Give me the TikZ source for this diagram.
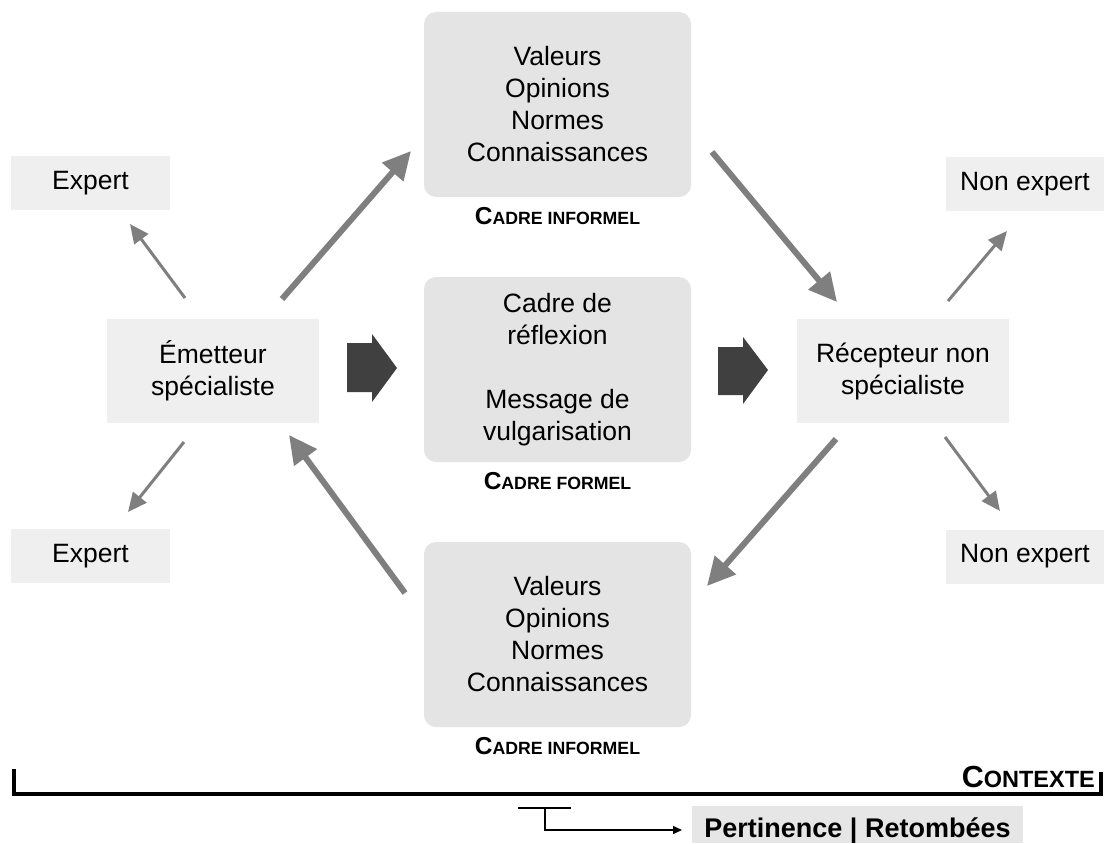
\documentclass[tikz,border=0pt]{standalone}
\usepackage{fontspec}
\setmainfont{Liberation Sans}
\usetikzlibrary{arrows.meta}

\definecolor{roundfill}{HTML}{E4E4E4}
\definecolor{boxfill}{HTML}{EFEFEF}
\definecolor{tagfill}{HTML}{E6E6E6}
\definecolor{arrowgray}{HTML}{7F7F7F}
\definecolor{blockgray}{HTML}{404040}

% bold pseudo small caps: large initial, smaller remaining capitals
\newcommand{\capsline}[4]{{\bfseries\fontsize{#3}{#3}\selectfont #1\fontsize{#4}{#4}\selectfont #2}}

\tikzset{
  labelfont/.style={font=\fontsize{26.5}{32}\selectfont},
  frame/.style={labelfont, rounded corners=12pt, fill=roundfill, inner sep=0pt,
    minimum width=267pt, minimum height=185pt, align=center},
  plainbox/.style={labelfont, fill=boxfill, inner sep=0pt, align=center},
  bigarrow/.style={draw=arrowgray, line width=6pt, -{Triangle[length=28pt,width=27pt]}},
  smallarrow/.style={draw=arrowgray, line width=3pt, -{Triangle[length=19pt,width=17pt]}},
  blockarrow/.style={fill=blockgray},
}

\begin{document}
\begin{tikzpicture}[x=1pt,y=-1pt]
\clip (0,0) rectangle (1105,843);
\fill[white] (0,0) rectangle (1105,843);

% central frames
\node[frame] (top) at (557.5,104.5) {Valeurs\\Opinions\\Normes\\Connaissances};
\node[frame] (mid) at (557.5,369.5) {Cadre de\\réflexion\\[32pt]Message de\\vulgarisation};
\node[frame] (bot) at (557.5,634.5) {Valeurs\\Opinions\\Normes\\Connaissances};

\node[anchor=base] (toplab) at (557.5,224) {\capsline{C}{ADRE INFORMEL}{24.5}{17.7}};
\node[anchor=base] (midlab) at (557.5,489) {\capsline{C}{ADRE FORMEL}{24.5}{17.7}};
\node[anchor=base] (botlab) at (557.5,754) {\capsline{C}{ADRE INFORMEL}{24.5}{17.7}};

% sender and receiver
\node[plainbox, minimum width=212pt, minimum height=104pt] (em) at (213,371) {Émetteur\\spécialiste};
\node[plainbox, minimum width=212pt, minimum height=104pt] (rec) at (903,371) {Récepteur non\\spécialiste};

% audiences
\node[plainbox, minimum width=159pt, minimum height=54pt] (ex1) at (90.5,183) {Expert};
\node[plainbox, minimum width=159pt, minimum height=54pt] (ex2) at (90.5,556) {Expert};
\node[plainbox, minimum width=158pt, minimum height=54pt] (nx1) at (1025,184) {Non expert};
\node[plainbox, minimum width=158pt, minimum height=54pt] (nx2) at (1025,556.5) {Non expert};

% arrow end points
\coordinate (a1s) at (282,299);  \coordinate (a1e) at (411,151);
\coordinate (a2s) at (712,152);  \coordinate (a2e) at (837,302);
\coordinate (a3s) at (836,439);  \coordinate (a3e) at (707,586);
\coordinate (a4s) at (405,593);  \coordinate (a4e) at (289,435);
\coordinate (b1s) at (185,298);  \coordinate (b1e) at (130,224);
\coordinate (b2s) at (948,301);  \coordinate (b2e) at (1007,231);
\coordinate (b3s) at (945,437);  \coordinate (b3e) at (1000,511);
\coordinate (b4s) at (184,442);  \coordinate (b4e) at (128,512);

\draw[bigarrow] (a1s) -- (a1e);
\draw[bigarrow] (a2s) -- (a2e);
\draw[bigarrow] (a3s) -- (a3e);
\draw[bigarrow] (a4s) -- (a4e);
\draw[smallarrow] (b1s) -- (b1e);
\draw[smallarrow] (b2s) -- (b2e);
\draw[smallarrow] (b3s) -- (b3e);
\draw[smallarrow] (b4s) -- (b4e);

% block arrows between sender, frame and receiver
\fill[blockarrow] (347,343) -- (372,343) -- (372,334) -- (397,368) -- (372,402) -- (372,392) -- (347,392) -- cycle;
\fill[blockarrow] (718,347) -- (743,347) -- (743,337) -- (768,370) -- (743,404) -- (743,395) -- (718,395) -- cycle;

% context bracket
\draw[line width=4pt, line join=miter] (13.5,769) -- (13.5,794) -- (1100.5,794) -- (1100.5,772);
\node[anchor=base east, inner sep=0pt] (ctx) at (1095,787) {\capsline{C}{ONTEXTE}{30.5}{23.5}};

% outcome tag, running down to the lower edge
\node[fill=tagfill, minimum width=331pt, minimum height=37pt, inner sep=0pt,
  text height=25pt, text depth=0pt,
  font=\bfseries\fontsize{27}{30}\selectfont] (pert) at (857.5,824.5) {Pertinence | Retombées};
\coordinate (tl) at (518,808);
\coordinate (tr) at (571,808);
\coordinate (tstem) at (545,808);
\coordinate (ttip) at (682,830);
\draw[line width=1.5pt] (tl) -- (tr);
\draw[line width=1.5pt, -{Triangle[length=9pt,width=8pt]}] (tstem) |- (ttip);
\end{tikzpicture}
\end{document}
